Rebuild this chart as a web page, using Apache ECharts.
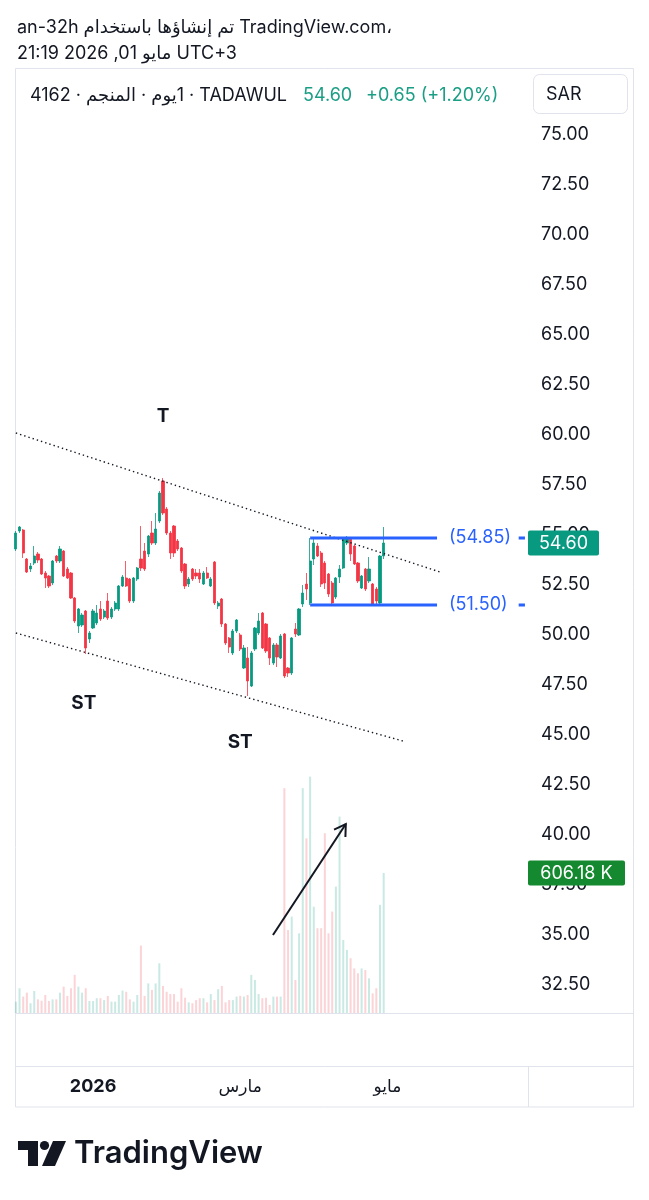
<!DOCTYPE html>
<html><head><meta charset="utf-8">
<script src="https://cdn.jsdelivr.net/npm/echarts@6/dist/echarts.min.js"></script>
<style>html,body{margin:0;padding:0;background:#fff}#c{width:649px;height:1200px}</style>
</head><body><div id="c"></div>
<script>
// ---- data ----
// [open, close, low, high]
const ohlc = [
[54.30,55.10,54.20,55.20],[55.20,55.40,55.10,55.45],[55.25,54.10,53.85,55.30],[53.80,53.15,53.10,53.85],[53.30,53.45,53.15,53.60],
[53.60,53.95,53.50,54.45],[54.05,53.75,53.60,54.15],[53.80,53.05,53.00,53.85],[53.10,52.85,52.35,53.20],[52.95,52.45,52.35,53.00],
[52.60,53.70,52.50,53.75],[53.95,53.70,53.60,54.00],[53.70,54.30,53.60,54.45],[54.20,52.95,52.90,54.25],[53.30,52.85,52.80,53.40],
[53.10,51.85,51.80,53.15],[51.85,50.70,50.60,51.90],[50.45,51.30,50.10,51.35],[50.50,51.00,50.40,51.10],[51.20,49.35,49.05,51.25],
[49.80,50.10,49.60,50.20],[50.35,51.20,50.30,51.30],[50.60,51.10,50.50,51.50],[51.30,50.80,50.70,51.70],[50.90,51.20,50.80,51.30],
[51.70,50.85,50.75,52.10],[50.90,51.30,50.80,51.40],[51.30,51.60,51.20,51.70],[51.30,52.45,51.20,52.50],[52.45,52.90,52.40,53.00],
[52.85,52.45,52.40,53.70],[52.80,51.70,51.60,52.85],[51.70,52.85,51.60,52.90],[52.80,53.35,52.70,53.40],[53.80,53.35,53.20,55.45],
[54.20,53.30,53.20,54.60],[54.05,54.95,53.90,55.00],[55.10,54.60,54.50,55.70],[54.60,55.30,54.50,56.10],[55.70,57.10,55.60,57.20],
[57.70,56.10,56.00,57.85],[56.30,55.10,55.00,56.40],[55.10,54.10,53.80,55.20],[55.45,54.10,53.90,55.50],[54.70,54.30,54.20,54.80],
[54.35,53.20,53.10,54.40],[53.55,52.45,52.30,53.60],[52.55,52.80,52.40,52.90],[53.30,52.80,52.70,53.35],[53.10,52.95,52.80,53.30],
[53.10,52.80,52.60,53.30],[52.55,53.10,52.50,53.20],[53.10,52.85,52.80,53.40],[52.45,52.80,52.40,52.90],[53.65,51.60,51.50,53.70],
[51.45,51.60,51.30,51.70],[51.80,50.55,50.40,51.85],[50.55,49.60,49.50,50.60],[49.85,49.40,49.10,49.90],[49.10,50.20,49.00,50.30],
[50.20,50.75,50.10,50.80],[50.00,49.30,49.20,50.10],[48.35,49.35,48.30,49.50],[48.85,47.70,46.95,49.40],[47.45,49.10,47.40,49.20],
[49.30,50.35,49.20,50.40],[50.10,50.70,50.00,51.10],[51.10,49.35,49.30,51.15],[50.55,49.20,49.10,50.60],[49.85,48.85,48.50,49.90],
[48.60,49.50,48.50,49.60],[49.50,48.90,48.40,49.60],[48.85,49.95,48.80,50.05],[50.05,47.95,47.85,50.10],[48.35,48.10,47.90,48.40],
[48.10,49.85,48.00,49.90],[50.30,50.05,49.90,50.60],[50.00,51.30,49.95,51.35],[51.55,52.10,51.40,52.50],[52.55,52.30,51.75,53.10],
[51.60,53.70,51.50,54.85],[53.80,54.60,53.50,54.85],[54.45,53.95,53.90,54.60],[54.10,52.55,52.40,54.20],[53.60,52.60,52.30,53.70],
[53.05,52.05,51.90,53.10],[52.60,51.60,51.50,52.70],[51.90,52.85,51.80,52.90],[52.90,53.30,52.60,53.50],[53.35,54.80,53.30,54.90],
[54.60,54.85,54.50,54.95],[54.85,54.05,53.70,54.90],[54.45,53.55,53.50,54.50],[53.60,52.70,52.60,53.65],[52.35,52.95,52.30,53.00],
[53.30,52.30,52.20,53.35],[52.70,53.30,52.60,53.90],[52.55,51.55,51.50,52.60],[52.30,51.70,51.50,52.40],[51.60,53.95,51.50,54.00],
[53.95,54.60,53.80,55.40]
];
// volume, thousands
const volumes = [
49,107,71,88,42,95,59,53,78,52,
59,59,88,114,74,107,165,114,88,107,
52,52,64,64,56,74,49,49,78,97,
92,59,49,78,292,74,128,100,128,215,
117,92,82,82,49,107,66,46,42,56,
64,64,46,82,56,103,117,46,56,56,
71,74,71,78,165,143,82,64,66,35,
71,71,71,973,359,417,143,345,973,756,
1023,460,367,367,778,345,439,547,850,316,
273,237,193,172,193,186,150,85,107,468,
606.18
];
const slotCount = 140; // bars + empty space to the right
const categories = Array.from({length: slotCount}, (_, i) => String(i));
const timeLabels = [{index: 21, text: '2026', bold: true}, {index: 61, text: 'مارس'}, {index: 101, text: 'مايو'}];
const upperTrend = [[0, 60.10], [115.3, 53.15]];
const lowerTrend = [[0, 50.10], [105.2, 44.70]];
const rangeTop = 54.85, rangeBottom = 51.50;
const rangeStart = 80, rangeEnd = 114.5;
const axisDash = [136.7, 138.4];
const lastPrice = 54.60, lastVolume = 606.18;
const annotations = [{text: 'T', idx: 40, price: 60.95}, {text: 'ST', idx: 18.5, price: 46.6}, {text: 'ST', idx: 61, price: 44.65}];
const arrowPts = [[69.9, 35.0], [89.7, 40.55]];

// ---- styles ----
const UP = '#089981', DOWN = '#F23645', BLUE = '#2962FF', TXT = '#131722', FRAME = '#e0e3eb';
const FONT = 'Inter, "DejaVu Sans", sans-serif';

const chart = echarts.init(document.getElementById('c'), null, {renderer: 'canvas', width: 649, height: 1200});

const volData = volumes.map((v, i) => ({
  value: v,
  itemStyle: {color: ohlc[i][1] >= ohlc[i][0] ? 'rgba(8,153,129,0.22)' : 'rgba(242,54,69,0.22)'}
}));

const dotted = {color: TXT, width: 1.4, type: [1.4, 3]};

const option = {
  animation: false,
  backgroundColor: '#fff',
  grid: [
    {left: 14, width: 515, top: 85, height: 950},
    {left: 14, width: 515, top: 763, height: 250},
    {left: 14, width: 515, top: 1013, height: 53}
  ],
  xAxis: [
    {type: 'category', gridIndex: 0, data: categories, show: false, boundaryGap: true},
    {type: 'value', gridIndex: 0, min: -0.5, max: slotCount - 0.5, show: false},
    {type: 'category', gridIndex: 1, data: categories, show: false, boundaryGap: true},
    {type: 'category', gridIndex: 2, data: categories, boundaryGap: true,
      axisLine: {show: false}, axisTick: {show: false}, splitLine: {show: false},
      axisLabel: {
        show: true, margin: 12, fontSize: 17, fontFamily: FONT, color: TXT, hideOverlap: false,
        interval: (idx) => timeLabels.some(t => t.index === idx),
        formatter: (val, idx) => {
          const t = timeLabels.find(t => t.index === idx);
          if (!t) return '';
          return t.bold ? '{b|' + t.text + '}' : t.text;
        },
        rich: {b: {fontWeight: 'bold', fontSize: 18, fontFamily: FONT, color: TXT}}
      }}
  ],
  yAxis: [
    {type: 'value', gridIndex: 0, position: 'right', min: 30, max: 77.5, interval: 2.5,
      axisLine: {show: false}, axisTick: {show: false}, splitLine: {show: false},
      axisLabel: {margin: 12, fontSize: 18, fontFamily: FONT, color: TXT, align: 'left', padding: [8, 0, 0, 0],
        formatter: v => (v < 32.5 || v > 75) ? '' : v.toFixed(2)}},
    {type: 'value', gridIndex: 1, min: 0, max: 1082, show: false},
    {type: 'value', gridIndex: 2, min: 0, max: 1, show: false}
  ],
  series: [
    {type: 'bar', xAxisIndex: 2, yAxisIndex: 1, data: volData, barWidth: 2, z: 1},
    {type: 'candlestick', xAxisIndex: 0, yAxisIndex: 0, data: ohlc, barWidth: 2.7, z: 3,
      itemStyle: {color: UP, color0: DOWN, borderColor: UP, borderColor0: DOWN, borderWidth: 0.8}},
    {type: 'line', xAxisIndex: 1, yAxisIndex: 0, data: upperTrend, symbol: 'none', lineStyle: dotted, z: 4},
    {type: 'line', xAxisIndex: 1, yAxisIndex: 0, data: lowerTrend, symbol: 'none', lineStyle: dotted, z: 4},
    {type: 'line', xAxisIndex: 1, yAxisIndex: 0, data: [[rangeStart, rangeTop], [rangeEnd, rangeTop]], symbol: 'none',
      lineStyle: {color: BLUE, width: 3}, z: 5,
      endLabel: {show: true, formatter: '(' + rangeTop.toFixed(2) + ')', color: BLUE, fontSize: 18, fontFamily: FONT, distance: 12}},
    {type: 'line', xAxisIndex: 1, yAxisIndex: 0, data: [[rangeStart, rangeBottom], [rangeEnd, rangeBottom]], symbol: 'none',
      lineStyle: {color: BLUE, width: 3}, z: 5,
      endLabel: {show: true, formatter: '(' + rangeBottom.toFixed(2) + ')', color: BLUE, fontSize: 18, fontFamily: FONT, distance: 12}},
    {type: 'line', xAxisIndex: 1, yAxisIndex: 0, data: [[axisDash[0], rangeTop], [axisDash[1], rangeTop]], symbol: 'none',
      lineStyle: {color: BLUE, width: 3}, z: 5},
    {type: 'line', xAxisIndex: 1, yAxisIndex: 0, data: [[axisDash[0], rangeBottom], [axisDash[1], rangeBottom]], symbol: 'none',
      lineStyle: {color: BLUE, width: 3}, z: 5},
    {type: 'line', xAxisIndex: 1, yAxisIndex: 0, data: arrowPts, symbol: 'none',
      lineStyle: {color: TXT, width: 2}, z: 6}
  ]
};
chart.setOption(option);

// ---- overlay graphics positioned through the scales ----
const px = (i, p) => chart.convertToPixel({xAxisIndex: 1, yAxisIndex: 0}, [i, p]);
const g = [];
const T = (x, y, text, o) => Object.assign({type: 'text', x, y, z: 100,
  style: Object.assign({text, fontSize: 18, fontFamily: FONT, fill: TXT, align: 'left', verticalAlign: 'middle'}, o || {})});

// frame
g.push({type: 'rect', z: 0, shape: {x: 15.5, y: 68.5, width: 618, height: 1038.5}, style: {fill: 'none', stroke: FRAME, lineWidth: 1}});
g.push({type: 'line', z: 0, shape: {x1: 15, y1: 1013.5, x2: 634, y2: 1013.5}, style: {stroke: FRAME, lineWidth: 1}});
g.push({type: 'line', z: 0, shape: {x1: 15, y1: 1066.5, x2: 634, y2: 1066.5}, style: {stroke: FRAME, lineWidth: 1}});
g.push({type: 'line', z: 0, shape: {x1: 528.5, y1: 1066, x2: 528.5, y2: 1107}, style: {stroke: FRAME, lineWidth: 1}});

// header
g.push(T(17, 28, 'an-32h تم إنشاؤها باستخدام TradingView.com،'));
g.push(T(17, 54, '21:19 2026 ,01 مايو UTC+3'));
// symbol line drawn piece by piece (visual order left to right)
const mctx = document.createElement('canvas').getContext('2d');
mctx.font = '18px ' + FONT;
const pieces = ['4162 · المنجم · ', 'يوم', '1', ' · TADAWUL'];
let hx = 30;
pieces.forEach(p => { g.push(T(hx, 96, p)); hx += mctx.measureText(p).width; });
g.push(T(303, 96, '54.60', {fill: '#1a9e85'}));
g.push(T(366, 96, '+0.65 (+1.20%)', {fill: '#1a9e85'}));
g.push({type: 'rect', z: 50, shape: {x: 533.5, y: 74.5, width: 94, height: 39, r: 6}, style: {fill: '#fff', stroke: FRAME, lineWidth: 1}});
g.push(T(546, 95, 'SAR'));

// annotations
annotations.forEach(a => {
  const [x, y] = px(a.idx, a.price);
  g.push(T(x, y, a.text, {fontWeight: 'bold', fontSize: 19, align: 'center'}));
});

// arrow head
const S = px(arrowPts[0][0], arrowPts[0][1]), E = px(arrowPts[1][0], arrowPts[1][1]);
const dx = S[0] - E[0], dy = S[1] - E[1], L = Math.hypot(dx, dy), ux = dx / L, uy = dy / L;
const rot = (a) => [E[0] + 13 * (ux * Math.cos(a) - uy * Math.sin(a)), E[1] + 13 * (ux * Math.sin(a) + uy * Math.cos(a))];
g.push({type: 'polyline', z: 100, shape: {points: [rot(0.55), E, rot(-0.55)]}, style: {stroke: TXT, lineWidth: 2, fill: 'none'}});

// last price badge
const yP = chart.convertToPixel({yAxisIndex: 0}, lastPrice);
g.push({type: 'rect', z: 100, shape: {x: 528, y: yP - 12.5, width: 71, height: 25, r: 2}, style: {fill: UP}});
g.push(T(563.5, yP + 1, lastPrice.toFixed(2), {fill: '#fff', align: 'center'}));
// last volume badge
const yV = chart.convertToPixel({yAxisIndex: 1}, lastVolume);
g.push({type: 'rect', z: 100, shape: {x: 528, y: yV - 12.5, width: 97, height: 25, r: 2}, style: {fill: '#15892f'}});
g.push(T(576.5, yV + 1, lastVolume.toFixed(2) + ' K', {fill: '#fff', align: 'center'}));

// TradingView logo
g.push({type: 'polygon', z: 100, shape: {points: [[18, 1141], [38, 1141], [38, 1166], [28, 1166], [28, 1150], [18, 1150]]}, style: {fill: TXT}});
g.push({type: 'circle', z: 100, shape: {cx: 44.5, cy: 1145.5, r: 4.6}, style: {fill: TXT}});
g.push({type: 'polygon', z: 100, shape: {points: [[53, 1141], [66, 1141], [55, 1166], [42, 1166]]}, style: {fill: TXT}});
g.push(T(74, 1154, 'TradingView', {fontSize: 31, fontWeight: 600}));

chart.setOption({graphic: g});
</script>
</body></html>
